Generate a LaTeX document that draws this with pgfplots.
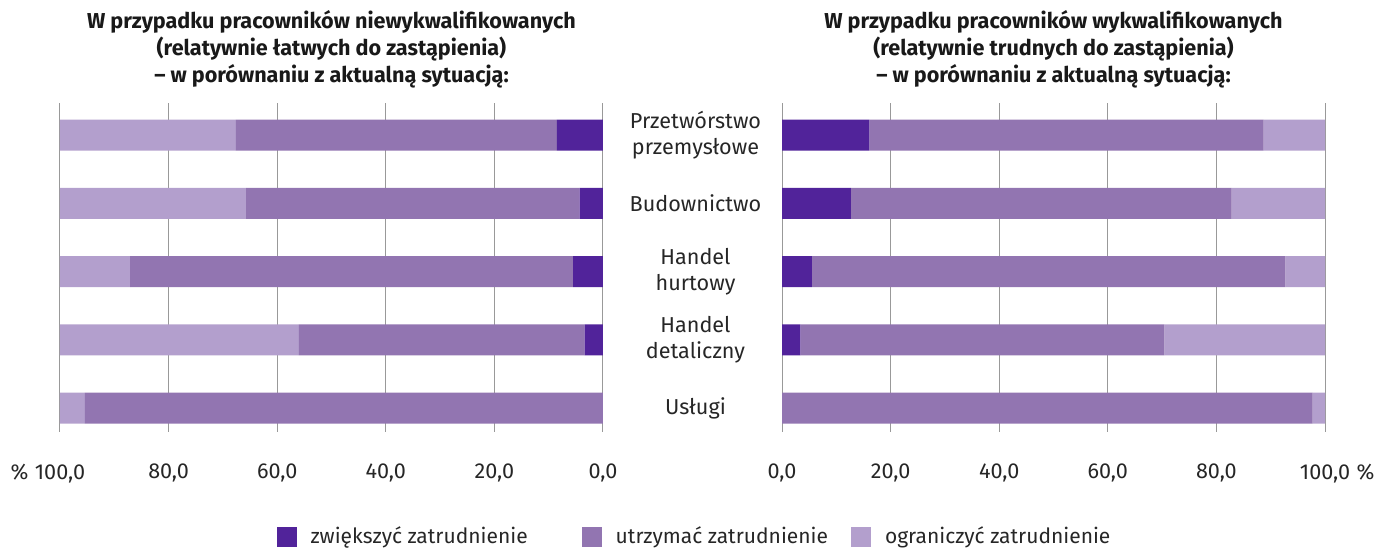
\documentclass[border=0pt]{standalone}
\usepackage{fontspec}
\setmainfont{Fira Sans}
\usepackage{pgfplots}
\pgfplotsset{compat=1.18}
\definecolor{c1}{HTML}{51239A}
\definecolor{c2}{HTML}{9275B1}
\definecolor{c3}{HTML}{B39FCD}
\begin{document}
\begin{tikzpicture}
\useasboundingbox (0,0) rectangle (694pt,274pt);
\pgfplotsset{
 common/.style={
  scale only axis, width=271.5pt, height=164.5pt,
  xbar stacked, bar width=15.5pt,
  xmin=0, xmax=100, ymin=-0.469, ymax=4.35,
  y dir=reverse,
  axis line style={draw=none},
  xmajorgrids, major grid style={color=black!40, line width=0.5pt},
  major tick length=0pt,
  xtick={0,20,40,60,80,100},
  ytick={0,1,2,3,4},
  tick label style={font=\fontsize{10.8}{13}\selectfont, text=black!85},
  xticklabel style={yshift=-12.3pt},
  title style={font=\bfseries\fontsize{10.8}{13.5}\selectfont, align=center, yshift=-2pt, text=black!90},
  clip=false,
 }
}
% left axis
\begin{axis}[common, at={(30pt,58pt)}, anchor=south west,
  x dir=reverse,
  yticklabels={},
  xticklabels={{0,0},{20,0},{40,0},{60,0},{80,0},{\llap{\%\hspace{0.3em}}100,0}},
  title={W przypadku pracowników niewykwalifikowanych\\(relatywnie łatwych do zastąpienia)\\– w porównaniu z aktualną sytuacją:},
  legend columns=3,
  legend style={at={(1.1703,-0.319)}, anchor=center, draw=none, fill=none,
    font=\fontsize{10.5}{13}\selectfont, text=black!85,
    /tikz/every odd column/.append style={column sep=5pt},
    /tikz/every even column/.append style={column sep=9.5pt}},
  legend image code/.code={\path[#1, draw=none] (0pt,-5pt) rectangle (10pt,5pt);},
]
\addplot[fill=c1, draw=none] coordinates {(8.5,0) (4.3,1) (5.5,2) (3.4,3) (0,4)};
\addplot[fill=c2, draw=none] coordinates {(59.1,0) (61.4,1) (81.6,2) (52.6,3) (95.4,4)};
\addplot[fill=c3, draw=none] coordinates {(32.4,0) (34.3,1) (12.9,2) (44.0,3) (4.6,4)};
\legend{zwiększyć zatrudnienie\rule{15.5pt}{0pt}, utrzymać zatrudnienie, ograniczyć zatrudnienie}
\end{axis}
% right axis
\begin{axis}[common, at={(391pt,58pt)}, anchor=south west,
  yticklabels={Przetwórstwo\\przemysłowe, Budownictwo, Handel\\hurtowy, Handel\\detaliczny, Usługi},
  yticklabel style={anchor=center, align=center, xshift=-43.25pt},
  xticklabels={{0,0},{20,0},{40,0},{60,0},{80,0},{100,0\rlap{\hspace{0.3em}\%}}},
  title={W przypadku pracowników wykwalifikowanych\\(relatywnie trudnych do zastąpienia)\\– w porównaniu z aktualną sytuacją:},
]
\addplot[fill=c1, draw=none] coordinates {(16.1,0) (12.7,1) (5.5,2) (3.4,3) (0,4)};
\addplot[fill=c2, draw=none] coordinates {(72.6,0) (70.1,1) (87.2,2) (67.0,3) (97.7,4)};
\addplot[fill=c3, draw=none] coordinates {(11.3,0) (17.2,1) (7.3,2) (29.6,3) (2.3,4)};
\end{axis}
\end{tikzpicture}
\end{document}
